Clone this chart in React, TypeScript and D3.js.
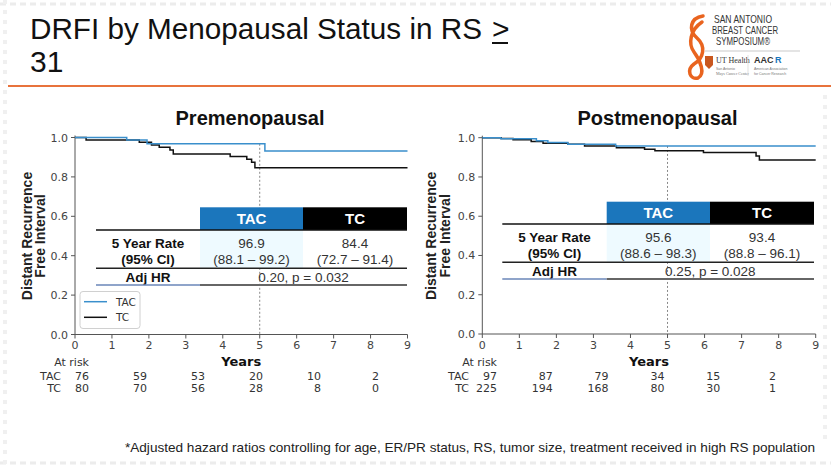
import React from "react";
import * as d3 from "d3";

const W = 831;
const H = 467;

const YEARS = [0, 1, 2, 3, 4, 5, 6, 7, 8, 9];
const Y_TICKS = [0, 0.2, 0.4, 0.6, 0.8, 1.0];
const SERIES = ["TAC", "TC"];

// Kaplan-Meier step points [year, survival]
const PRE_TAC: [number, number][] = [[0, 1], [0.3, 1], [1.4, 0.987], [1.95, 0.968], [5.14, 0.931], [9, 0.931]];
const PRE_TC: [number, number][] = [
  [0, 1], [0.3, 0.987], [1.74, 0.976], [2.07, 0.962], [2.28, 0.95], [2.57, 0.937], [2.66, 0.916],
  [4.2, 0.903], [4.65, 0.889], [4.78, 0.874], [4.87, 0.846], [9, 0.846],
];
const POST_TAC: [number, number][] = [[0, 1], [0.5, 0.995], [1.46, 0.985], [1.77, 0.975], [2.31, 0.967], [3.6, 0.958], [9, 0.958]];
const POST_TC: [number, number][] = [
  [0, 1], [0.51, 0.996], [0.83, 0.99], [1.32, 0.981], [1.64, 0.972], [2.31, 0.966], [2.76, 0.958],
  [3.62, 0.949], [4.38, 0.941], [4.66, 0.934], [5.97, 0.924], [7.39, 0.907], [7.48, 0.886], [9, 0.886],
];

const PRE_RISK_TAC = [76, 59, 53, 20, 10, 2];
const PRE_RISK_TC = [80, 70, 56, 28, 8, 0];
const POST_RISK_TAC = [97, 87, 79, 34, 15, 2];
const POST_RISK_TC = [225, 194, 168, 80, 30, 1];

const PRE_RATE = ["96.9", "84.4"];
const PRE_CI = ["(88.1 – 99.2)", "(72.7 – 91.4)"];
const PRE_HR = "0.20, p = 0.032";
const POST_RATE = ["95.6", "93.4"];
const POST_CI = ["(88.6 – 98.3)", "(88.8 – 96.1)"];
const POST_HR = "0.25, p = 0.028";

const TITLE_1 = "DRFI by Menopausal Status in RS";
const TITLE_GE = ">";
const TITLE_2 = "31";
const FOOTNOTE = "*Adjusted hazard ratios controlling for age, ER/PR status, RS, tumor size, treatment received in high RS population";

const BLUE_LINE = "#3a8fcc";
const BLUE_HEAD = "#1b76bc";
const ORANGE = "#e8733c";
const SANS = "'Liberation Sans', Arial, sans-serif";
const NARROW = "'Liberation Sans Narrow', 'Arial Narrow', 'Liberation Sans', Arial, sans-serif";
const MPL = "'DejaVu Sans', sans-serif";

type PanelProps = {
  title: string;
  tac: [number, number][];
  tc: [number, number][];
  riskTac: number[];
  riskTc: number[];
  rate: string[];
  ci: string[];
  hr: string;
  xr: [number, number];
  yr: [number, number];
  titleCx: number;
  ylx: [number, number];
  tbl: { l: number; s1: number; s2: number; r: number; top: number; bot: number };
  riskR: [number, number];
  legend?: boolean;
};

function survAt(pts: [number, number][], t: number) {
  let v = 1;
  for (const p of pts) if (p[0] <= t) v = p[1];
  return v;
}

function Panel(p: PanelProps) {
  const x = d3.scaleLinear().domain([0, 9]).range(p.xr);
  const y = d3.scaleLinear().domain([0, 1]).range(p.yr);
  const line = d3
    .line<[number, number]>()
    .x((d) => x(d[0]))
    .y((d) => y(d[1]))
    .curve(d3.curveStepAfter);
  const riskX = d3.scaleLinear().domain([0, 5]).range(p.riskR);
  const t = p.tbl;
  const lc = (t.l + t.s1) / 2;
  const c1 = (t.s1 + t.s2) / 2;
  const c2 = (t.s2 + t.r) / 2;
  const hc = (t.s1 + t.r) / 2;
  const x0 = p.xr[0];
  const yBase = p.yr[0];
  const yMid = (p.yr[0] + p.yr[1]) / 2;
  const dotTop = y(Math.max(survAt(p.tac, 5), survAt(p.tc, 5)));
  return (
    <g>
      <text x={p.titleCx} y={125} textAnchor="middle" fontFamily={SANS} fontWeight="bold" fontSize={20} fill="#111">
        {p.title}
      </text>
      {/* y label */}
      <text transform={`translate(${p.ylx[0] + 5},${yMid}) rotate(-90)`} textAnchor="middle" fontFamily={SANS} fontWeight="bold" fontSize={14} fill="#222">
        Distant Recurrence
      </text>
      <text transform={`translate(${p.ylx[1] + 5},${yMid}) rotate(-90)`} textAnchor="middle" fontFamily={SANS} fontWeight="bold" fontSize={14} fill="#222">
        Free Interval
      </text>
      {/* axes */}
      <line x1={x0} x2={x0} y1={y(0)} y2={y(1) - 2} stroke="#555" strokeWidth={1} />
      <line x1={x0} x2={p.xr[1]} y1={yBase} y2={yBase} stroke="#555" strokeWidth={1} />
      {Y_TICKS.map((v) => (
        <g key={v}>
          <line x1={x0 - 4} x2={x0} y1={y(v)} y2={y(v)} stroke="#555" />
          <text x={x0 - 7} y={y(v) + 4} textAnchor="end" fontFamily={MPL} fontSize={11} fill="#444">
            {v.toFixed(1)}
          </text>
        </g>
      ))}
      {YEARS.map((v) => (
        <g key={v}>
          <line x1={x(v)} x2={x(v)} y1={yBase} y2={yBase + 4} stroke="#555" />
          <text x={x(v)} y={349} textAnchor="middle" fontFamily={MPL} fontSize={11} fill="#444">
            {v}
          </text>
        </g>
      ))}
      <text x={(p.xr[0] + p.xr[1]) / 2} y={366} textAnchor="middle" fontFamily={MPL} fontWeight="bold" fontSize={13} fill="#111">
        Years
      </text>
      {/* dotted line at 5 years */}
      <line x1={x(5)} x2={x(5)} y1={dotTop} y2={yBase} stroke="#888" strokeWidth={1} strokeDasharray="2,2" />
      {/* table */}
      <rect x={t.s1} y={t.bot} width={t.s2 - t.s1} height={38} fill="#eefaff" />
      <rect x={t.s1} y={t.top} width={t.s2 - t.s1} height={t.bot - t.top} fill={BLUE_HEAD} />
      <rect x={t.s2} y={t.top} width={t.r - t.s2} height={t.bot - t.top} fill="#000" />
      <text x={c1} y={t.bot - 6} textAnchor="middle" fontFamily={SANS} fontWeight="bold" fontSize={15} fill="#fff">
        {SERIES[0]}
      </text>
      <text x={c2} y={t.bot - 6} textAnchor="middle" fontFamily={SANS} fontWeight="bold" fontSize={15} fill="#fff">
        {SERIES[1]}
      </text>
      <line x1={t.l} x2={t.r} y1={t.bot} y2={t.bot} stroke="#111" strokeWidth={1.5} />
      <text x={lc} y={t.bot + 18} textAnchor="middle" fontFamily={SANS} fontWeight="bold" fontSize={13.5} fill="#111">
        5 Year Rate
      </text>
      <text x={lc} y={t.bot + 34} textAnchor="middle" fontFamily={SANS} fontWeight="bold" fontSize={13.5} fill="#111">
        (95% CI)
      </text>
      {[c1, c2].map((cx, i) => (
        <g key={i}>
          <text x={cx} y={t.bot + 18} textAnchor="middle" fontFamily={SANS} fontSize={13.5} fill="#333">
            {p.rate[i]}
          </text>
          <text x={cx} y={t.bot + 34} textAnchor="middle" fontFamily={SANS} fontSize={13.5} fill="#333">
            {p.ci[i]}
          </text>
        </g>
      ))}
      <line x1={t.l} x2={t.r} y1={t.bot + 38.3} y2={t.bot + 38.3} stroke="#222" strokeWidth={1.5} />
      <text x={lc} y={t.bot + 51.7} textAnchor="middle" fontFamily={SANS} fontWeight="bold" fontSize={13.5} fill="#111">
        Adj HR
      </text>
      <text x={hc} y={t.bot + 51.7} textAnchor="middle" fontFamily={SANS} fontSize={13.5} fill="#333">
        {p.hr}
      </text>
      <line x1={t.l} x2={t.s1} y1={t.bot + 55} y2={t.bot + 55} stroke="#6a86b8" strokeWidth={1.5} />
      <line x1={t.s1} x2={t.r} y1={t.bot + 55} y2={t.bot + 55} stroke="#666" strokeWidth={1.8} />
      {/* curves */}
      <path d={line(p.tc) || ""} fill="none" stroke="#111" strokeWidth={1.5} />
      <path d={line(p.tac) || ""} fill="none" stroke={BLUE_LINE} strokeWidth={1.5} />
      {/* legend */}
      {p.legend && (
        <g>
          <rect x={x0 + 5} y={291.5} width={60} height={37} rx={3} fill="#fff" stroke="#d0d0d0" />
          <line x1={x0 + 9} x2={x0 + 32} y1={301.7} y2={301.7} stroke={BLUE_LINE} strokeWidth={1.5} />
          <text x={x0 + 41} y={305.5} fontFamily={MPL} fontSize={10.5} fill="#333">{SERIES[0]}</text>
          <line x1={x0 + 9} x2={x0 + 32} y1={317.3} y2={317.3} stroke="#111" strokeWidth={1.5} />
          <text x={x0 + 41} y={321} fontFamily={MPL} fontSize={10.5} fill="#333">{SERIES[1]}</text>
        </g>
      )}
      {/* at risk */}
      <text x={p.riskR[0]} y={366} textAnchor="end" fontFamily={MPL} fontSize={11} fill="#333">At risk</text>
      <text x={p.riskR[0] - 28} y={379.5} textAnchor="end" fontFamily={MPL} fontSize={11} fill="#333">{SERIES[0]}</text>
      <text x={p.riskR[0] - 28} y={391.5} textAnchor="end" fontFamily={MPL} fontSize={11} fill="#333">{SERIES[1]}</text>
      {p.riskTac.map((v, i) => (
        <text key={"a" + i} x={riskX(i)} y={379.5} textAnchor="end" fontFamily={MPL} fontSize={11} fill="#333">{v}</text>
      ))}
      {p.riskTc.map((v, i) => (
        <text key={"b" + i} x={riskX(i)} y={391.5} textAnchor="end" fontFamily={MPL} fontSize={11} fill="#333">{v}</text>
      ))}
    </g>
  );
}

function Logo() {
  return (
    <g>
      <path
        d="M703,16 C690,18 688,30 697,38 C706,46 704,58 694,64 C686,70 690,80 698,78 C706,74 700,60 694,52 C688,44 690,30 702,22"
        fill="none"
        stroke="#e9641f"
        strokeWidth={3.5}
        strokeLinecap="round"
      />
      <text x={743} y={23} textAnchor="middle" fontFamily={NARROW} fontSize={10.5} fill="#333" textLength={58} lengthAdjust="spacingAndGlyphs">SAN ANTONIO</text>
      <text x={745} y={34} textAnchor="middle" fontFamily={NARROW} fontSize={10.5} fill="#333" textLength={66} lengthAdjust="spacingAndGlyphs">BREAST CANCER</text>
      <text x={743} y={45} textAnchor="middle" fontFamily={NARROW} fontSize={10.5} fill="#333" textLength={54} lengthAdjust="spacingAndGlyphs">SYMPOSIUM®</text>
      <line x1={705} x2={800} y1={51} y2={51} stroke="#bbb" strokeWidth={0.8} />
      <path d="M705,56 h8 v9 l-4,4 l-4,-4 z" fill="#c9571e" />
      <text x={716} y={63} fontFamily="'Liberation Serif', serif" fontSize={8} fill="#333">UT Health</text>
      <text x={716} y={70} fontFamily={SANS} fontSize={3.5} fill="#777">San Antonio</text>
      <text x={716} y={75} fontFamily="'Liberation Serif', serif" fontSize={4} fill="#777">Mays Cancer Center</text>
      <line x1={748} x2={748} y1={55} y2={76} stroke="#ccc" strokeWidth={0.6} />
      <text x={754} y={63} fontFamily={SANS} fontWeight="bold" fontSize={9} fill="#333">AAC</text>
      <text x={775} y={63} fontFamily={SANS} fontWeight="bold" fontSize={9} fill="#1b76bc">R</text>
      <text x={754} y={70} fontFamily={SANS} fontSize={3.5} fill="#777">American Association</text>
      <text x={754} y={75} fontFamily={SANS} fontSize={3.5} fill="#777">for Cancer Research</text>
    </g>
  );
}

export default function App() {
  return (
    <svg width={W} height={H} viewBox={`0 0 ${W} ${H}`} style={{ position: "absolute", left: 0, top: 0, background: "#fff" }}>
      <rect width={W} height={H} fill="#fff" />
      {/* faint decorative border pattern */}
      <line x1={0} x2={W} y1={4} y2={4} stroke="#ececec" strokeWidth={3} strokeDasharray="6,4" />
      <line x1={0} x2={W} y1={463} y2={463} stroke="#ececec" strokeWidth={3} strokeDasharray="6,4" />
      <line x1={5} x2={5} y1={0} y2={H} stroke="#f0f0f0" strokeWidth={4} strokeDasharray="4,6" />
      <line x1={825} x2={825} y1={95} y2={440} stroke="#f0f0f0" strokeWidth={4} strokeDasharray="4,6" />

      <text x={30} y={39} fontFamily={NARROW} fontSize={30} fill="#111" textLength={452} lengthAdjust="spacingAndGlyphs">
        {TITLE_1}
      </text>
      <text x={492} y={39} fontFamily={NARROW} fontSize={30} fill="#111">
        {TITLE_GE}
      </text>
      <line x1={492} x2={508} y1={43} y2={43} stroke="#111" strokeWidth={2} />
      <text x={30} y={72} fontFamily={NARROW} fontSize={30} fill="#111">
        {TITLE_2}
      </text>
      <Logo />
      <line x1={8} x2={W} y1={86} y2={86} stroke={ORANGE} strokeWidth={2} />

      <Panel
        title="Premenopausal"
        tac={PRE_TAC}
        tc={PRE_TC}
        riskTac={PRE_RISK_TAC}
        riskTc={PRE_RISK_TC}
        rate={PRE_RATE}
        ci={PRE_CI}
        hr={PRE_HR}
        xr={[75, 407.5]}
        yr={[334.5, 137.5]}
        titleCx={250}
        ylx={[27, 40]}
        tbl={{ l: 96, s1: 200, s2: 303, r: 407, top: 207.3, bot: 230 }}
        riskR={[89, 379]}
        legend
      />
      <Panel
        title="Postmenopausal"
        tac={POST_TAC}
        tc={POST_TC}
        riskTac={POST_RISK_TAC}
        riskTc={POST_RISK_TC}
        rate={POST_RATE}
        ci={POST_CI}
        hr={POST_HR}
        xr={[482.3, 815.7]}
        yr={[334, 137.7]}
        titleCx={657.5}
        ylx={[431, 445]}
        tbl={{ l: 502.3, s1: 606.7, s2: 710, r: 814, top: 201.7, bot: 224 }}
        riskR={[497, 776]}
      />
      <text x={125} y={452} fontFamily={SANS} fontSize={13} fill="#222" textLength={690} lengthAdjust="spacingAndGlyphs">
        {FOOTNOTE}
      </text>
    </svg>
  );
}
